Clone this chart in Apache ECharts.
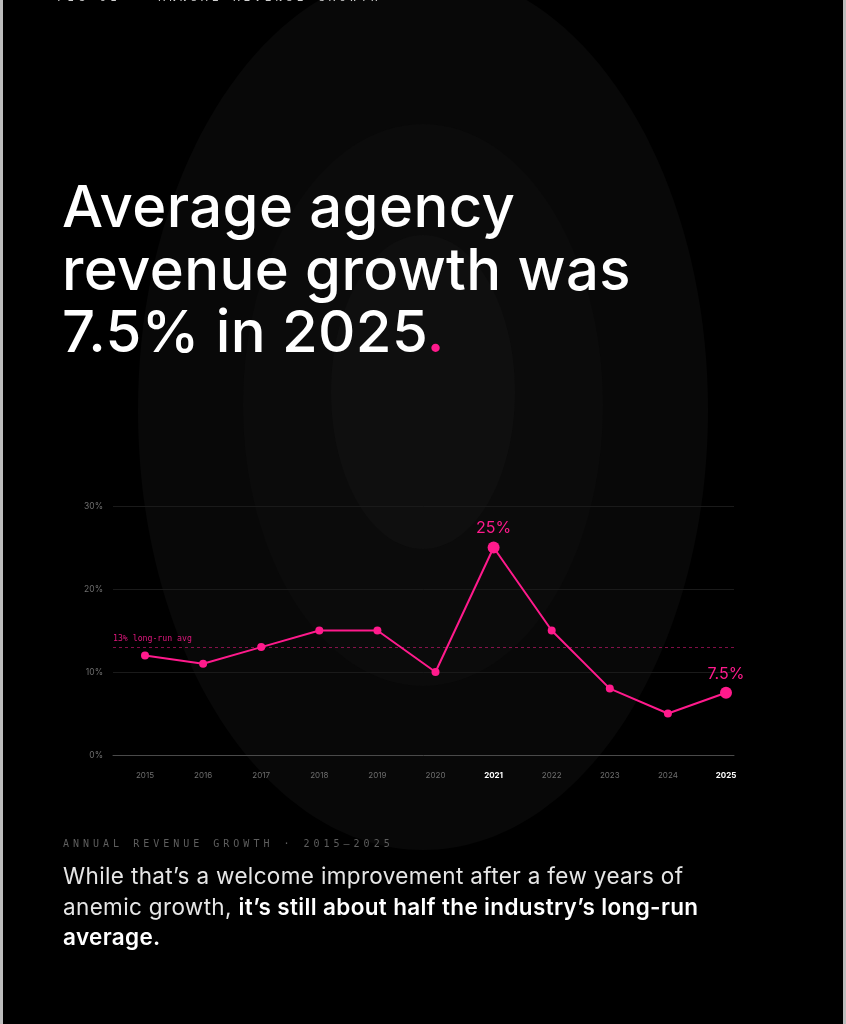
<!DOCTYPE html>
<html>
<head>
<meta charset="utf-8">
<script src="https://cdn.jsdelivr.net/npm/echarts@6/dist/echarts.min.js"></script>
<style>
  html, body { margin: 0; padding: 0; }
  body { width: 846px; height: 1024px; background: #bdbdbd; position: relative; overflow: hidden; }
  #chart { position: absolute; left: 0; top: 0; width: 846px; height: 1024px; }
  .txt { position: absolute; z-index: 2; white-space: nowrap; }
  .fig {
    left: 57px; top: -9px;
    font-family: "DejaVu Sans Mono", monospace; font-size: 11px; letter-spacing: 4px;
    color: #d0d0d0;
  }
  .fig .dash { margin: 0 3px; }
  .title {
    left: 62px; top: 175px;
    font-family: Inter, sans-serif; font-weight: 500; font-size: 58px; line-height: 62.5px;
    letter-spacing: 0.4px; color: #fff;
  }
  .title .dot { color: #ff1a8c; }
  .cap {
    left: 63px; top: 838px;
    font-family: "DejaVu Sans Mono", monospace; font-size: 10px; letter-spacing: 4px;
    color: #5e5e5e;
  }
  .body {
    left: 63px; top: 861px;
    font-family: Inter, sans-serif; font-size: 22.5px; line-height: 30.5px;
    letter-spacing: 0.35px; color: #e6e6e6;
  }
  .body b { font-weight: 600; color: #fff; }
</style>
</head>
<body>
<div id="chart"></div>
<div class="txt fig">FIG 01 <span class="dash">—</span> ANNUAL REVENUE GROWTH</div>
<div class="txt title">Average agency<br>revenue growth was<br>7.5% in 2025<span class="dot">.</span></div>
<div class="txt cap">ANNUAL REVENUE GROWTH · 2015–2025</div>
<div class="txt body">While that’s a welcome improvement after a few years of<br>anemic growth, <b>it’s still about half the industry’s long-run<br>average.</b></div>
<script>
// data
const years = ['2015', '2016', '2017', '2018', '2019', '2020', '2021', '2022', '2023', '2024', '2025'];
const growth = [12, 11, 13, 15, 15, 10, 25, 15, 8, 5, 7.5];
const highlightYears = ['2021', '2025'];
const longRunAvg = 13;
const yMin = 0;
const yMax = 30;
const yStep = 10;

const pink = '#ff1a8c';

const chart = echarts.init(document.getElementById('chart'));

const pointData = growth.map((v, i) => {
  const hi = highlightYears.includes(years[i]);
  return hi
    ? { value: v, symbolSize: 12, label: { show: true } }
    : { value: v };
});

const option = {
  backgroundColor: 'transparent',
  animation: false,
  graphic: [
    { type: 'rect', z: -10, shape: { x: 3, y: 0, width: 840, height: 1024 }, style: { fill: '#000' } },
    { type: 'ellipse', z: -9, shape: { cx: 423, cy: 410, rx: 285, ry: 440 }, style: { fill: '#080808' } },
    { type: 'ellipse', z: -8, shape: { cx: 423, cy: 405, rx: 180, ry: 281 }, style: { fill: '#0b0b0b' } },
    { type: 'ellipse', z: -7, shape: { cx: 423, cy: 392, rx: 92, ry: 157 }, style: { fill: '#0f0f0f' } }
  ],
  grid: [
    { left: 113, right: 112, top: 506, bottom: 269 },
    { left: 145, right: 120, top: 506, bottom: 269 }
  ],
  xAxis: [
    {
      type: 'category', gridIndex: 0, data: years,
      axisLine: { lineStyle: { color: '#4a4a4a', width: 1 } },
      axisTick: { show: false },
      axisLabel: { show: false }
    },
    {
      type: 'category', gridIndex: 1, data: years, boundaryGap: false,
      axisLine: { show: false },
      axisTick: { show: false },
      axisLabel: {
        margin: 17,
        fontFamily: 'Inter',
        fontSize: 8,
        color: '#6e6e6e',
        formatter: (v) => highlightYears.includes(v) ? '{b|' + v + '}' : v,
        rich: { b: { fontFamily: 'Inter', fontSize: 8, fontWeight: 700, color: '#fff' } }
      }
    }
  ],
  yAxis: [
    {
      type: 'value', gridIndex: 0, min: yMin, max: yMax, interval: yStep,
      axisLine: { show: false },
      axisTick: { show: false },
      axisLabel: { margin: 10, fontFamily: 'Inter', fontSize: 8.5, color: '#6e6e6e', formatter: '{value}%' },
      splitLine: { lineStyle: { color: '#1a1a1a', width: 1 } }
    },
    {
      type: 'value', gridIndex: 1, min: yMin, max: yMax, interval: yStep,
      show: false
    }
  ],
  series: [
    {
      type: 'line', xAxisIndex: 0, yAxisIndex: 0, data: [],
      markLine: {
        silent: true,
        symbol: 'none',
        lineStyle: { color: 'rgba(255,26,140,0.5)', type: [3, 3], width: 1 },
        label: {
          position: 'insideStartTop',
          formatter: longRunAvg + '% long-run avg',
          color: '#e0177e',
          fontFamily: 'DejaVu Sans Mono',
          fontSize: 8.2,
          distance: [0, 4]
        },
        data: [{ yAxis: longRunAvg }]
      }
    },
    {
      type: 'line', xAxisIndex: 1, yAxisIndex: 1,
      data: pointData,
      symbol: 'circle',
      symbolSize: 8,
      z: 5,
      itemStyle: { color: pink },
      lineStyle: { color: pink, width: 2 },
      label: {
        show: false,
        position: 'top',
        distance: 5,
        color: pink,
        fontFamily: 'Inter',
        fontSize: 16,
        formatter: (p) => p.value + '%'
      }
    }
  ]
};

chart.setOption(option);
</script>
</body>
</html>
